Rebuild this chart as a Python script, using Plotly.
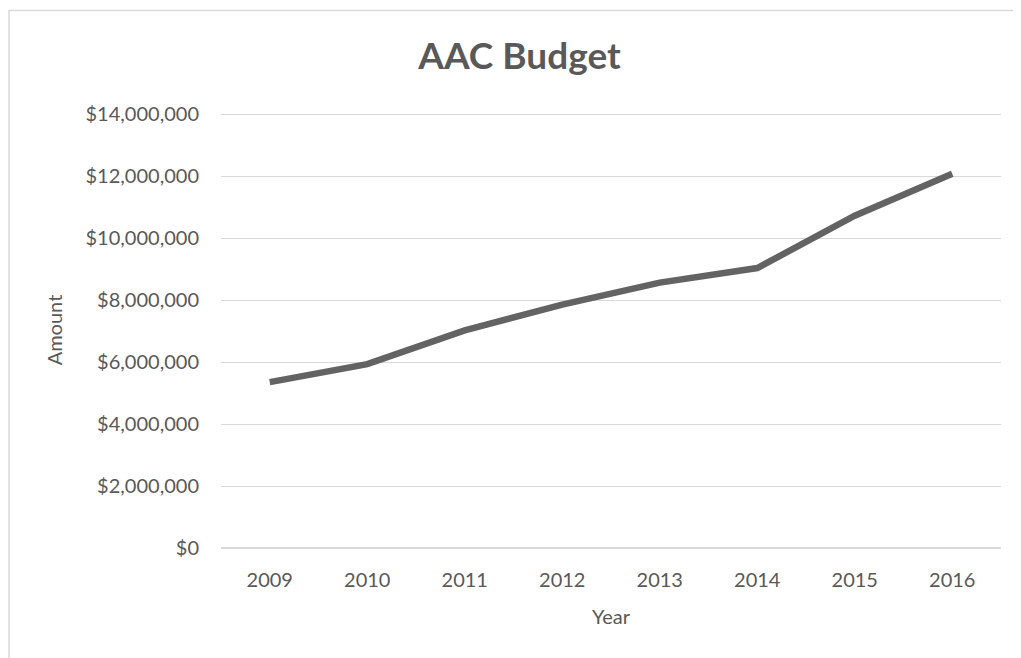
import plotly.graph_objects as go

# AAC budget per year
years = ['2009', '2010', '2011', '2012', '2013', '2014', '2015', '2016']
budget = [5350000, 5930000, 7020000, 7850000, 8560000, 9030000, 10720000, 12070000]

y_ticks = [0, 2000000, 4000000, 6000000, 8000000, 10000000, 12000000, 14000000]
y_labels = [f'${v:,}' for v in y_ticks]

font_main = 'Lato, Open Sans, sans-serif'
grey_text = '#595959'
grid_grey = '#d9d9d9'

fig = go.Figure()

fig.add_trace(go.Scatter(
    x=years,
    y=budget,
    mode='lines',
    line=dict(color='#636363', width=6.5),
    showlegend=False,
))

# la pagina ha 8px di margine sul body: la figura parte da (8, 8)
W, H = 1013, 650
left, right, top, bottom = 213, 20, 104, 110
pw = W - left - right
ph = H - top - bottom

# bordo esterno del grafico (come in Excel)
fig.add_shape(
    type='rect', xref='paper', yref='paper',
    x0=(1 - left) / pw, x1=(W + 20 - left) / pw,
    y0=(H - bottom - (H + 20)) / ph, y1=(H - bottom - 2.5) / ph,
    line=dict(color='#d9d9d9', width=1.5), fillcolor='rgba(0,0,0,0)',
    layer='below',
)

fig.update_layout(
    width=W, height=H,
    margin=dict(l=left, r=right, t=top, b=bottom),
    paper_bgcolor='white',
    plot_bgcolor='white',
    font=dict(family=font_main, size=20, color=grey_text),
    title=dict(
        text='<b>AAC Budget</b>',
        x=511.5 / W, xanchor='center',
        y=1 - 48 / H, yanchor='middle',
        font=dict(size=37, color=grey_text, family=font_main),
    ),
    xaxis=dict(
        type='category',
        range=[-0.5, 7.5],
        showgrid=False,
        showline=False,
        zeroline=False,
        ticks='',
        ticklabelstandoff=18,
        title=dict(text='Year', standoff=19, font=dict(size=20, color=grey_text)),
        tickfont=dict(size=20, color=grey_text),
        fixedrange=True,
    ),
    yaxis=dict(
        # un po' oltre 14M così la griglia in alto resta visibile
        range=[0, 14065000],
        tickvals=y_ticks,
        ticktext=y_labels,
        showgrid=True,
        gridcolor=grid_grey,
        gridwidth=1.3,
        zeroline=True,
        zerolinecolor=grid_grey,
        zerolinewidth=1.5,
        showline=False,
        ticks='',
        ticklabelstandoff=21,
        title=dict(text='Amount', standoff=17, font=dict(size=20, color=grey_text)),
        tickfont=dict(size=20, color=grey_text),
        fixedrange=True,
    ),
)

fig.write_html('out.html')
